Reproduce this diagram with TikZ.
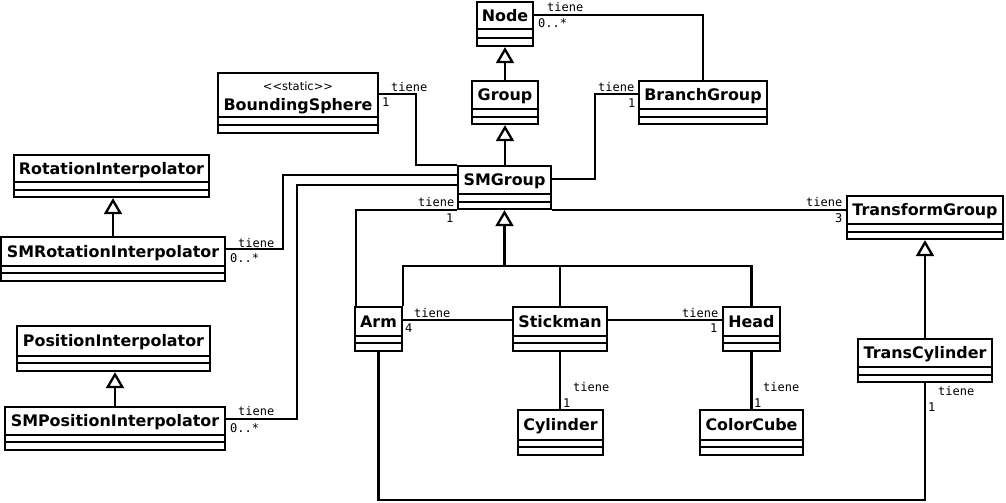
\documentclass[tikz,border=0pt]{standalone}
\usepackage{fontspec}
\setmainfont{DejaVu Sans}
\newfontfamily\monofont{DejaVu Sans Mono}
\usetikzlibrary{arrows.meta,fit,calc}
\tikzset{
  clsbox/.style={draw, line width=2.3pt, inner sep=0pt},
  clsname/.style={font=\bfseries\fontsize{15.9}{18}\selectfont, anchor=base, inner sep=0pt},
  lbl/.style={font=\monofont\fontsize{12}{14}\selectfont, inner sep=0pt, anchor=west},
  assoc/.style={line width=2.3pt},
  inh/.style={line width=2.3pt, -{Triangle[length=16pt,width=18pt,fill=white]}},
}
\newcommand\umlcls[8]{%
  \node[clsbox, fit={(#2,#3) (#4,#5)}] (#1) {};
  \draw[line width=2.3pt] (#2,#6) -- (#4,#6) (#2,#7) -- (#4,#7);
  \node[clsname] (#1-n) at ({(#2+#4)/2},{(#3+#6)/2+5.8}) {#8};
}
\begin{document}
\begin{tikzpicture}[x=1pt,y=-1pt]
\useasboundingbox (0,0) rectangle (1006,503);
% classes
\umlcls{Node}{477}{2}{533}{46}{29}{38}{Node}
\umlcls{Group}{472}{81}{538}{124}{109}{117}{Group}
\umlcls{BranchGroup}{639}{81}{767}{124}{109}{117}{BranchGroup}
\umlcls{SMGroup}{458}{166}{551}{209}{194}{202}{SMGroup}
\umlcls{RotInt}{14}{155}{209}{197}{182}{190}{RotationInterpolator}
\umlcls{SMRot}{1}{237}{225}{281}{266}{273}{SMRotationInterpolator}
\umlcls{PosInt}{17}{326}{210}{371}{356}{363}{PositionInterpolator}
\umlcls{SMPos}{5}{407}{225}{450}{435}{442}{SMPositionInterpolator}
\umlcls{TG}{847}{196}{1003}{239}{224}{232}{TransformGroup}
\umlcls{Arm}{355}{307}{402}{351}{336}{343}{Arm}
\umlcls{Stickman}{513}{307}{607}{351}{336}{343}{Stickman}
\umlcls{Head}{723}{307}{780}{351}{336}{343}{Head}
\umlcls{TC}{858}{339}{992}{382}{367}{375}{TransCylinder}
\umlcls{Cylinder}{518}{410}{603}{455}{440}{447}{Cylinder}
\umlcls{ColorCube}{700}{410}{803}{455}{440}{447}{ColorCube}
% BoundingSphere (with stereotype)
\node[clsbox, fit={(218,73) (378,133)}] (BS) {};
\draw[line width=2.3pt] (218,117) -- (378,117) (218,125) -- (378,125);
\node[font=\fontsize{11.5}{13}\selectfont, inner sep=0pt] (BS-st) at (298,86) {<\kern0pt<static>\kern0pt>};
\node[clsname] (BS-n) at (298,110) {BoundingSphere};
% inheritance
\draw[inh] (Group.north) -- (Node.south);
\draw[inh] (Group.south |- SMGroup.north) -- (Group.south);
\draw[inh] (SMRot.north) -- (SMRot.north |- RotInt.south);
\draw[inh] (SMPos.north) -- (SMPos.north |- PosInt.south);
\draw[inh] (TC.north) -- (TG.south);
\coordinate (inhj) at ([yshift=-56pt]SMGroup.south);
\draw[assoc] (Arm.north east) |- (inhj) -| (Head.north);
\draw[assoc] (Stickman.north) -- (Stickman.north |- inhj);
\draw[inh] (inhj) -- (SMGroup.south);
% associations
\draw[assoc] ([yshift=-14pt]Node.north east) -| (BranchGroup.north);
\draw[assoc] ([yshift=-22pt]BS.north east) -| ([xshift=-41pt]SMGroup.north west) -- (SMGroup.north west);
\draw[assoc] ([yshift=-14pt]SMGroup.north east) -- ++(43,0) |- ([yshift=-14pt]BranchGroup.north west);
\draw[assoc] ([yshift=-13pt]SMRot.north east) -- ++(57,0) |- ([yshift=-10pt]SMGroup.north west);
\draw[assoc] ([yshift=-13pt]SMPos.north east) -- ++(71,0) |- ([yshift=-20pt]SMGroup.north west);
\draw[assoc] ([xshift=2pt]Arm.north west) |- (SMGroup.south west);
\draw[assoc] (SMGroup.south east) -- (SMGroup.south east -| TG.west);
\draw[assoc] ([yshift=-14pt]Arm.north east) -- ([yshift=-14pt]Stickman.north west);
\draw[assoc] ([yshift=-14pt]Stickman.north east) -- ([yshift=-14pt]Head.north west);
\draw[assoc] (Stickman.south) -- (Stickman.south |- Cylinder.north);
\draw[assoc] (Head.south) -- (Head.south |- ColorCube.north);
\draw[assoc] (TC.south) -- ([yshift=-117pt]TC.south) -| (Arm.south);
% labels
\node[lbl] (l1a) at (547,7) {tiene};   \node[lbl] (l1b) at (538,23) {0..*};
\node[lbl] (l2a) at (391,87) {tiene};  \node[lbl] (l2b) at (382,102) {1};
\node[lbl] (l3a) at (598,87) {tiene};  \node[lbl] (l3b) at (628,103) {1};
\node[lbl] (l4a) at (238,243) {tiene}; \node[lbl] (l4b) at (230,258) {0..*};
\node[lbl] (l5a) at (238,411) {tiene}; \node[lbl] (l5b) at (230,428) {0..*};
\node[lbl] (l6a) at (418,202) {tiene}; \node[lbl] (l6b) at (446,218) {1};
\node[lbl] (l7a) at (806,202) {tiene}; \node[lbl] (l7b) at (835,218) {3};
\node[lbl] (l8a) at (414,313) {tiene}; \node[lbl] (l8b) at (405,328) {4};
\node[lbl] (l9a) at (682,313) {tiene}; \node[lbl] (l9b) at (710,328) {1};
\node[lbl] (l10a) at (573,387) {tiene}; \node[lbl] (l10b) at (563,403) {1};
\node[lbl] (l11a) at (763,387) {tiene}; \node[lbl] (l11b) at (754,403) {1};
\node[lbl] (l12a) at (938,391) {tiene}; \node[lbl] (l12b) at (928,407) {1};
\end{tikzpicture}
\end{document}
